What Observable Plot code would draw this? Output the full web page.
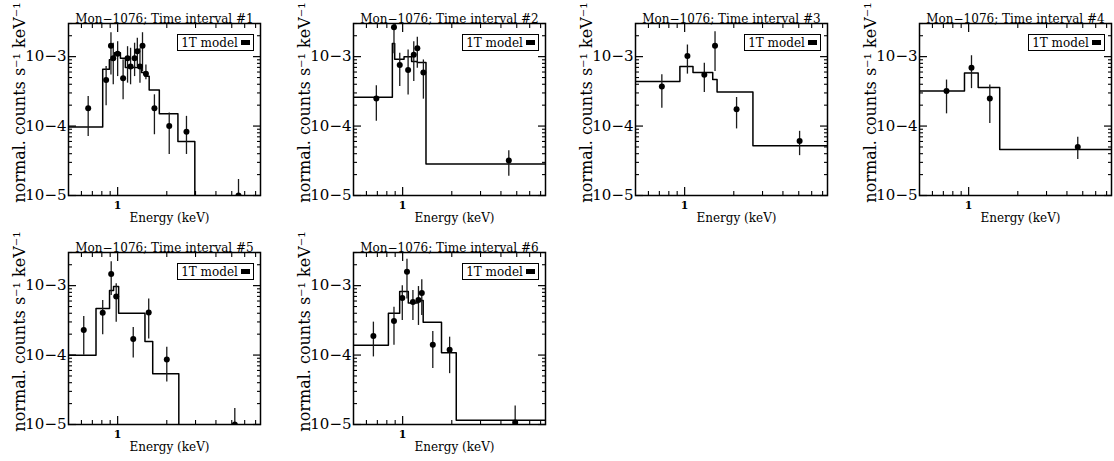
<!DOCTYPE html>
<html><head><meta charset="utf-8">
<script src="https://cdn.jsdelivr.net/npm/d3@7"></script>
<script src="https://cdn.jsdelivr.net/npm/@observablehq/plot@0.6"></script>
<style>
body{margin:0;background:#fff;}
#wrap{position:relative;width:1114px;height:461px;overflow:hidden;background:#fff;}
.panel{position:absolute;}
.legend{position:absolute;box-sizing:border-box;border:1.4px solid #000;background:#fff;
  font:12px "DejaVu Serif";color:#000;display:flex;align-items:center;justify-content:center;gap:3px;white-space:nowrap;}
.legend .sw{display:inline-block;width:9px;height:5px;background:#000;}
</style></head><body><div id="wrap"></div>
<script>
// ---- data ----
const titles = ["Mon\u22121076; Time interval #1","Mon\u22121076; Time interval #2","Mon\u22121076; Time interval #3",
                "Mon\u22121076; Time interval #4","Mon\u22121076; Time interval #5","Mon\u22121076; Time interval #6"];
const xLabel = "Energy (keV)";
const yLabel = "normal. counts s\u207B\u00B9 keV\u207B\u00B9";
const legendLabel = "1T model";
const xMajor = [1];
const xMinor = [0.6,0.7,0.8,0.9,2,3,4,5,6,7];
const yMajor = [1e-5,1e-4,1e-3];
const yMinor = [2e-5,3e-5,4e-5,5e-5,6e-5,7e-5,8e-5,9e-5,2e-4,3e-4,4e-4,5e-4,6e-4,7e-4,8e-4,9e-4,2e-3,3e-3];

// Interval 1
const energy1 = [0.66,0.85,0.91,0.94,1.0,1.08,1.15,1.20,1.27,1.32,1.37,1.42,1.49,1.68,2.07,2.64,5.5];
const counts1 = [1.8e-4,4.6e-4,1.43e-3,9.5e-4,1.1e-3,4.9e-4,9.5e-4,7.2e-4,9.5e-4,1.2e-3,7.2e-4,1.43e-3,5.65e-4,1.8e-4,1.0e-4,8.3e-5,1.0e-5];
const errHi1 = [2.67e-4,7.2e-4,2.2e-3,1.56e-3,1.64e-3,9.0e-4,1.39e-3,1.32e-3,1.56e-3,1.84e-3,1.32e-3,2.21e-3,7.6e-4,2.82e-4,1.54e-4,1.38e-4,1.7e-5];
const errLo1 = [7.1e-5,1.96e-4,5.46e-4,3.93e-4,5.16e-4,2.39e-4,4.15e-4,3.93e-4,5.16e-4,7.2e-4,4.15e-4,6.1e-4,4.63e-4,7.5e-5,3.9e-5,3.9e-5,1.0e-5];
const edges1 = [0.5,0.81,0.89,0.957,1.04,1.115,1.40,1.47,1.56,1.80,2.34,2.97,7.5];
const model1 = [9.7e-5,6.6e-4,9.0e-4,1.14e-3,9.5e-4,7.0e-4,5.9e-4,5.2e-4,3.3e-4,1.5e-4,6.0e-5,3e-6];

// Interval 2
const energy2 = [0.69,0.885,0.96,1.08,1.17,1.23,1.34,4.47];
const counts2 = [2.5e-4,2.64e-3,7.6e-4,6.4e-4,1.06e-3,1.32e-3,5.9e-4,3.2e-5];
const errHi2 = [3.8e-4,2.9e-3,1.12e-3,1.25e-3,1.64e-3,1.9e-3,8.96e-4,4.4e-5];
const errLo2 = [1.17e-4,1.1e-3,3.7e-4,2.8e-4,4.4e-4,6.8e-4,2.44e-4,1.9e-5];
const edges2 = [0.5,0.865,0.894,1.02,1.135,1.23,1.39,7.5];
const model2 = [2.6e-4,1.55e-3,9.2e-4,1.0e-3,8.5e-4,8.2e-4,2.85e-5];

// Interval 3
const energy3 = [0.725,1.04,1.32,1.535,2.08,5.06];
const counts3 = [3.7e-4,1.02e-3,5.5e-4,1.44e-3,1.75e-4,6.1e-5];
const errHi3 = [5.5e-4,1.47e-3,8.0e-4,2.29e-3,2.58e-4,8.4e-5];
const errLo3 = [1.8e-4,5.6e-4,3.04e-4,6.1e-4,9.1e-5,3.75e-5];
const edges3 = [0.5,0.935,1.125,1.486,1.58,2.62,7.5];
const model3 = [4.4e-4,7.2e-4,5.9e-4,4.7e-4,3.1e-4,5.2e-5];

// Interval 4
const energy4 = [0.732,1.041,1.348,4.66];
const counts4 = [3.2e-4,6.9e-4,2.5e-4,5.0e-5];
const errHi4 = [4.6e-4,1.03e-3,3.9e-4,6.9e-5];
const errLo4 = [1.5e-4,3.46e-4,1.09e-4,3.3e-5];
const edges4 = [0.5,0.943,1.144,1.55,7.5];
const model4 = [3.2e-4,5.8e-4,3.6e-4,4.6e-5];

// Interval 5
const energy5 = [0.62,0.81,0.913,0.98,1.246,1.55,2.0,5.22];
const counts5 = [2.3e-4,4.06e-4,1.47e-3,6.95e-4,1.71e-4,4.1e-4,8.6e-5,1.0e-5];
const errHi5 = [3.6e-4,6.1e-4,2.2e-3,1.06e-3,2.5e-4,6.4e-4,1.3e-4,1.7e-5];
const errLo5 = [9.9e-5,1.96e-4,7.2e-4,2.98e-4,9.1e-5,1.7e-4,4.1e-5,1.0e-5];
const edges5 = [0.5,0.737,0.892,0.944,1.014,1.47,1.64,2.37,7.5];
const model5 = [9.9e-5,4.7e-4,8.5e-4,9.7e-4,4.0e-4,1.57e-4,5.4e-5,3e-6];

// Interval 6
const energy6 = [0.662,0.885,0.995,1.063,1.156,1.25,1.31,1.53,1.94,4.89];
const counts6 = [1.88e-4,3.1e-4,6.65e-4,1.59e-3,5.8e-4,6.2e-4,7.85e-4,1.41e-4,1.19e-4,1.07e-5];
const errHi6 = [2.98e-4,4.9e-4,1.0e-3,2.4e-3,8.5e-4,9.7e-4,1.22e-3,2.19e-4,1.81e-4,1.85e-5];
const errLo6 = [9.4e-5,1.38e-4,3.15e-4,6.4e-4,3.15e-4,2.67e-4,3.7e-4,6.4e-5,5.4e-5,1.0e-5];
const edges6 = [0.5,0.818,0.959,1.083,1.23,1.336,1.73,2.13,7.5];
const model6 = [1.38e-4,4.0e-4,8.2e-4,5.6e-4,6.1e-4,2.98e-4,1.08e-4,1.15e-5];

// ---- layout ----
const W = 264, H = 232, ML = 68, MR = 4, MT = 23, MB = 37;
const panels = [
  {E:energy1,Y:counts1,hi:errHi1,lo:errLo1,ed:edges1,m:model1,left:0,top:0},
  {E:energy2,Y:counts2,hi:errHi2,lo:errLo2,ed:edges2,m:model2,left:285,top:0},
  {E:energy3,Y:counts3,hi:errHi3,lo:errLo3,ed:edges3,m:model3,left:567,top:0},
  {E:energy4,Y:counts4,hi:errHi4,lo:errLo4,ed:edges4,m:model4,left:851,top:0},
  {E:energy5,Y:counts5,hi:errHi5,lo:errLo5,ed:edges5,m:model5,left:0,top:229},
  {E:energy6,Y:counts6,hi:errHi6,lo:errLo6,ed:edges6,m:model6,left:285,top:229}
];
const yFmt = d => "10\u2212" + Math.abs(Math.round(Math.log10(d)));
const blank = () => "";

// scale a text's font size so that its rendered length equals `target` px
function fitText(node, target) {
  const len = node.getComputedTextLength();
  if (len > 0) {
    const fs = parseFloat(getComputedStyle(node).fontSize) || 14;
    const nf = (fs * target / len).toFixed(2);
    node.setAttribute("font-size", nf);
    node.style.fontSize = nf + "px";
  }
}

const wrap = document.getElementById("wrap");
panels.forEach((p, i) => {
  const pts = p.E.map((e, j) => ({E: e, y: p.Y[j], lo: p.lo[j], hi: p.hi[j]}));
  const steps = p.ed.map((e, j) => ({E: e, v: p.m[Math.min(j, p.m.length - 1)]}));
  const fig = Plot.plot({
    width: W, height: H, marginLeft: ML, marginRight: MR, marginTop: MT, marginBottom: MB,
    x: {type: "log", domain: [0.5, 7.5], label: null},
    y: {type: "log", domain: [1e-5, 3e-3], label: null},
    style: {fontFamily: "DejaVu Serif", background: "transparent", color: "black", overflow: "visible"},
    marks: [
      Plot.line(steps, {x: "E", y: "v", curve: "step-after", stroke: "black", strokeWidth: 1.5, clip: true}),
      Plot.ruleX(pts, {x: "E", y1: "lo", y2: "hi", stroke: "#1a1a1a", strokeWidth: 1.3, clip: true}),
      Plot.dot(pts, {x: "E", y: "y", r: 3, fill: "black", stroke: null, clip: true}),
      Plot.frame({stroke: "black", strokeWidth: 1.5}),
      // inward ticks on all four sides
      Plot.axisX({anchor: "bottom", ticks: xMajor, tickSize: -8, tickFormat: blank, label: null, strokeWidth: 1.2}),
      Plot.axisX({anchor: "bottom", ticks: xMinor, tickSize: -4, tickFormat: blank, label: null, strokeWidth: 1.1}),
      Plot.axisX({anchor: "top", ticks: xMajor, tickSize: -8, tickFormat: blank, label: null, strokeWidth: 1.2}),
      Plot.axisX({anchor: "top", ticks: xMinor, tickSize: -4, tickFormat: blank, label: null, strokeWidth: 1.1}),
      Plot.axisY({anchor: "left", ticks: yMajor, tickSize: -8, tickFormat: blank, label: null, strokeWidth: 1.2}),
      Plot.axisY({anchor: "left", ticks: yMinor, tickSize: -4, tickFormat: blank, label: null, strokeWidth: 1.1}),
      Plot.axisY({anchor: "right", ticks: yMajor, tickSize: -8, tickFormat: blank, label: null, strokeWidth: 1.2}),
      Plot.axisY({anchor: "right", ticks: yMinor, tickSize: -4, tickFormat: blank, label: null, strokeWidth: 1.1}),
      // tick labels
      Plot.axisX({anchor: "bottom", ticks: xMajor, tickSize: 0, tickPadding: 6, tickFormat: d => String(d), label: null, fontSize: 11, fontWeight: "bold"}),
      Plot.axisY({anchor: "left", ticks: yMajor, tickSize: 0, tickPadding: 2, tickFormat: yFmt, label: null, fontSize: 15, ariaLabel: "ytl"}),
      // titles and axis labels
      Plot.text([titles[i]], {frameAnchor: "top", dy: -9, fontSize: 12, fill: "black", ariaLabel: "ptitle"}),
      Plot.text([xLabel], {frameAnchor: "bottom", dx: 5, dy: 26, fontSize: 12, fill: "black", ariaLabel: "xlab"}),
      Plot.text([yLabel], {frameAnchor: "left", textAnchor: "middle", dx: -49, dy: -7, rotate: -90, fontSize: 16, fill: "black", ariaLabel: "ylab"})
    ]
  });
  const svg = d3.select(fig);
  // superscript exponents on the y tick labels
  svg.selectAll("g[aria-label='ytl'] text").each(function() {
    const t = d3.select(this);
    const s = t.text();
    t.text(null).style("font-family", "'Liberation Serif'");
    t.append("tspan").attr("font-size", 15).text(s.slice(0, 2));
    t.append("tspan").attr("font-size", 10).attr("dy", "-0.6em").text(s.slice(2));
    t.attr("textLength", 31).attr("lengthAdjust", "spacingAndGlyphs");
  });
  svg.selectAll("g[aria-label='ylab'] text").style("font-family", "'Liberation Serif'");

  const div = document.createElement("div");
  div.className = "panel";
  div.style.left = p.left + "px";
  div.style.top = p.top + "px";
  div.style.width = W + "px";
  div.style.height = H + "px";
  div.appendChild(fig);
  const lg = document.createElement("div");
  lg.className = "legend";
  lg.style.left = (W - MR - 6 - 77) + "px";
  lg.style.top = (MT + 11) + "px";
  lg.style.width = "77px";
  lg.style.height = "17px";
  lg.innerHTML = `<span>${legendLabel}</span><span class="sw"></span>`;
  div.appendChild(lg);
  wrap.appendChild(div);

  // size texts now that they are in the document
  svg.selectAll("g[aria-label='ylab'] text").each(function() { fitText(this, 190); });
  svg.selectAll("g[aria-label='ptitle'] text").each(function() { fitText(this, 180); });
  svg.selectAll("g[aria-label='xlab'] text").each(function() { fitText(this, 84); });
});
</script>
</body></html>
